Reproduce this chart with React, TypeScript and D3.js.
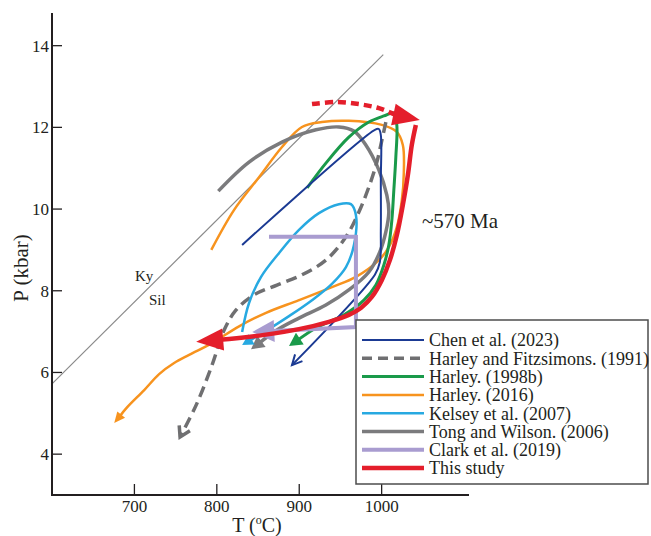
import React from "react";
import * as d3 from "d3";

type Pt = [number, number];

// P-T paths, [T (°C), P (kbar)]
const kySil: Pt[] = [[600, 5.72], [1002, 13.78]];

const chen: Pt[] = [[830.7, 9.12], [991.8, 11.94], [996.6, 11.96], [999, 11.81], [999, 10.71], [999, 9.49], [997.8, 8.7], [991.8, 8.39], [891.2, 6.18]];
const harleyFitz: Pt[] = [[1005.1, 12.13], [1000.3, 11.69], [994.2, 11.15], [984.5, 10.54], [972.4, 9.93], [956.7, 9.32], [932.4, 8.75], [903.3, 8.39], [873, 8.14], [845.2, 7.9], [823.4, 7.53], [808.9, 7.04], [794.2, 6.18], [774.9, 5.2], [755.4, 4.42]];
const harley1998: Pt[] = [[909.6, 10.52], [932.6, 11.13], [960.2, 11.76], [984.5, 12.13], [1002.7, 12.28], [1014.8, 12.35], [1018.4, 12.06], [1017.2, 11.27], [1014.8, 10.47], [1012.4, 9.73], [1008.7, 9.12], [1002.7, 8.63], [993, 8.14], [978.5, 7.77], [954.3, 7.41], [920.3, 7.09], [887.6, 6.65]];
const harley2016: Pt[] = [[793.3, 9.0], [821, 9.98], [851.2, 10.78], [879.1, 11.52], [903.3, 12.01], [927.5, 12.13], [960.2, 12.16], [1000.2, 12.06], [1018.4, 11.89], [1025.7, 11.57], [1026.9, 10.88], [1024.5, 10.22], [1018.4, 9.56], [1008.7, 9.07], [996.6, 8.75], [968.8, 8.34], [939.7, 8.09], [899.7, 7.77], [859.7, 7.46], [827, 7.13], [794.2, 6.72], [766.4, 6.43], [748.2, 6.23], [730, 5.96], [711.9, 5.57], [691.3, 5.15], [675.5, 4.76]];
const kelsey: Pt[] = [[830.7, 6.99], [839.1, 7.7], [853.7, 8.34], [875.4, 8.92], [899.7, 9.49], [923.9, 9.9], [948.1, 10.12], [962.7, 10.12], [968.8, 9.85], [966.4, 9.12], [956.7, 8.58], [939.7, 8.17], [915.5, 7.77], [887.6, 7.38], [857.3, 6.99], [830.7, 6.67]];
const tong: Pt[] = [[801.8, 10.44], [839.1, 11.15], [879.1, 11.64], [920.3, 11.94], [948.1, 12.01], [966.3, 11.91], [980.8, 11.57], [996.6, 10.96], [1006.3, 10.34], [1008.7, 9.93], [1005.1, 9.44], [997.8, 8.95], [984.5, 8.46], [960.2, 8.02], [932.3, 7.65], [899.7, 7.33], [873, 7.04], [841.5, 6.57]];
const clark: Pt[] = [[863.3, 9.32], [968.8, 9.32], [968.8, 7.11], [843, 6.99]];
const thisStudy: Pt[] = [[1041.5, 12.06], [1036.6, 11.57], [1031.8, 10.83], [1025.7, 10.1], [1018.4, 9.36], [1010, 8.75], [1000.2, 8.26], [988.1, 7.85], [974.8, 7.58], [960.2, 7.41], [936, 7.24], [899.7, 7.06], [857.3, 6.92], [814.9, 6.82], [775, 6.75]];
const thisStudyPeak: Pt[] = [[915.5, 12.57], [944.6, 12.62], [972.4, 12.57], [996.6, 12.47], [1018.4, 12.3], [1046.3, 12.18]];

const xTicks = [700, 800, 900, 1000];
const yTicks = [4, 6, 8, 10, 12, 14];

const legendNames = [
  "Chen et al. (2023)",
  "Harley and Fitzsimons. (1991)",
  "Harley. (1998b)",
  "Harley. (2016)",
  "Kelsey et al. (2007)",
  "Tong and Wilson. (2006)",
  "Clark et al. (2019)",
  "This study",
];
const legendColors = ["#1b3a93", "#6f6f71", "#1a9a4a", "#f7931e", "#27a9e1", "#7b7b7d", "#a99cd0", "#e41e2b"];
const legendWidths = [2, 3.5, 3, 2.5, 2.5, 3.5, 4, 4.5];

const x = d3.scaleLinear().domain([600, 1106]).range([52, 469]);
const y = d3.scaleLinear().domain([3, 14.8]).range([495, 13]);

const toPx = (pts: Pt[]): Pt[] => pts.map(([t, p]) => [x(t), y(p)]);
const line = d3.line().curve(d3.curveCatmullRom.alpha(0.5));
const straight = d3.line();

function head(px: Pt[], len: number, half: number) {
  const [x2, y2] = px[px.length - 1];
  const [x1, y1] = px[px.length - 2];
  const a = Math.atan2(y2 - y1, x2 - x1);
  const bx = x2 - len * Math.cos(a);
  const by = y2 - len * Math.sin(a);
  const nx = -Math.sin(a) * half;
  const ny = Math.cos(a) * half;
  return { tip: [x2, y2] as Pt, base: [bx, by] as Pt, l: [bx + nx, by + ny] as Pt, r: [bx - nx, by - ny] as Pt };
}

function trimmed(px: Pt[], len: number): Pt[] {
  const h = head(px, len, 0);
  const tip = h.tip;
  const kept = px.slice(0, -1).filter((p) => Math.hypot(p[0] - tip[0], p[1] - tip[1]) > len * 1.1);
  return [...kept, h.base];
}

const Path = ({ data, color, width, dash, arrow, len = 12, half = 5, curve = true }: any) => {
  const px = toPx(data);
  const h = head(px, len, half);
  const gen = curve ? line : straight;
  const d = arrow === "filled" ? gen(trimmed(px, len * 0.7)) : gen(px);
  return (
    <g>
      <path d={d || ""} fill="none" stroke={color} strokeWidth={width} strokeDasharray={dash} />
      {arrow === "filled" && <polygon points={[h.tip, h.l, h.r].map((p) => p.join(",")).join(" ")} fill={color} />}
      {arrow === "open" && (
        <path d={`M${h.l.join(",")}L${h.tip.join(",")}L${h.r.join(",")}`} fill="none" stroke={color} strokeWidth={width} />
      )}
    </g>
  );
};

export default function App() {
  const font = "'Liberation Serif', 'Times New Roman', serif";
  return (
    <div>
      <style>{"body{margin:0}"}</style>
      <svg width={651} height={536} style={{ display: "block", fontFamily: font }}>
        <rect width={651} height={536} fill="#fff" />
        <path d={straight(toPx(kySil)) || ""} stroke="#8a8a8a" strokeWidth={1.2} fill="none" />
        <text x={135} y={281} fontSize={15} fill="#231f20">Ky</text>
        <text x={149} y={305} fontSize={15} fill="#231f20">Sil</text>

        <Path data={harley2016} color={legendColors[3]} width={2.5} arrow="filled" len={11} half={5} />
        <Path data={tong} color={legendColors[5]} width={3.5} arrow="filled" len={13} half={7} />
        <Path data={harleyFitz} color={legendColors[1]} width={3.5} dash="11,6" arrow="open" len={10} half={6} />
        <Path data={kelsey} color={legendColors[4]} width={2.5} arrow="filled" len={11} half={6} />
        <Path data={harley1998} color={legendColors[2]} width={3} arrow="filled" len={13} half={7} />
        <Path data={chen} color={legendColors[0]} width={2} arrow="open" len={10} half={5} />
        <Path data={clark} color={legendColors[6]} width={4} arrow="filled" len={22} half={11} curve={false} />
        <Path data={thisStudy} color={legendColors[7]} width={4.5} arrow="filled" len={27} half={11} />
        <Path data={thisStudyPeak} color={legendColors[7]} width={4.5} dash="8,5" arrow="filled" len={27} half={11} />

        <text x={422} y={228} fontSize={21} fill="#231f20">~570 Ma</text>

        {/* axes */}
        <line x1={x(600)} x2={x(600)} y1={13} y2={495} stroke="#231f20" strokeWidth={2} />
        <line x1={x(600) - 1} x2={469} y1={495} y2={495} stroke="#231f20" strokeWidth={2} />
        {yTicks.map((t) => (
          <g key={t}>
            <line x1={x(600)} x2={x(600) + 10} y1={y(t)} y2={y(t)} stroke="#231f20" strokeWidth={1.3} />
            <text x={49} y={y(t)} dy="0.35em" textAnchor="end" fontSize={17} fill="#231f20">{t}</text>
          </g>
        ))}
        {xTicks.map((t) => (
          <g key={t}>
            <line x1={x(t)} x2={x(t)} y1={495} y2={484} stroke="#231f20" strokeWidth={1.3} />
            <text x={x(t)} y={512} textAnchor="middle" fontSize={17} fill="#231f20">{t}</text>
          </g>
        ))}
        <text transform="translate(28,268) rotate(-90)" textAnchor="middle" fontSize={21} fill="#231f20">P (kbar)</text>
        <text x={257} y={532} textAnchor="middle" fontSize={20} fill="#231f20">
          T (<tspan fontSize={12} dy={-8}>o</tspan><tspan dy={8}>C)</tspan>
        </text>

        {/* legend */}
        <rect x={356} y={320} width={292} height={164} fill="#fff" stroke="#4d4d4d" strokeWidth={1.5} />
        {legendNames.map((n, i) => (
          <g key={n}>
            <line x1={362} x2={424} y1={340 + i * 18.3} y2={340 + i * 18.3} stroke={legendColors[i]} strokeWidth={legendWidths[i]} strokeDasharray={i === 1 ? "10,6" : undefined} />
            <text x={429} y={340 + i * 18.3} dy="0.35em" fontSize={18} fill="#231f20">{n}</text>
          </g>
        ))}
      </svg>
    </div>
  );
}
